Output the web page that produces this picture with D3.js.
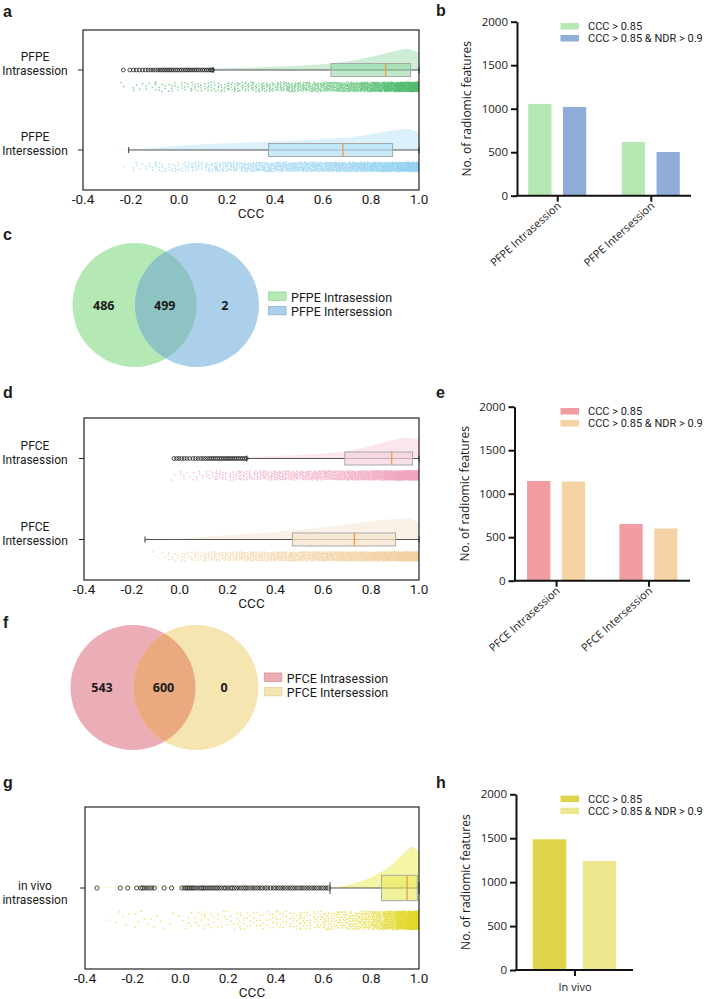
<!DOCTYPE html>
<html>
<head>
<meta charset="utf-8">
<script src="https://cdn.jsdelivr.net/npm/d3@7"></script>
<style>
  body { margin: 0; background: #fff; }
  text { font-family: Roboto, "Liberation Sans", sans-serif; fill: #1a1a1a; }
</style>
</head>
<body>
<div id="chart"></div>
<script>
// ---------- data ----------
const cccTicks = [-0.4, -0.2, 0.0, 0.2, 0.4, 0.6, 0.8, 1.0];
const countTicks = [0, 500, 1000, 1500, 2000];
const barSeries = ["CCC > 0.85", "CCC > 0.85 & NDR > 0.9"];

// box stats: [lower whisker, Q1, median, Q3, upper whisker]
const pfpeIntraBox = [0.142, 0.633, 0.861, 0.965, 1.0];
const pfpeInterBox = [-0.21, 0.373, 0.683, 0.89, 1.0];
const pfceIntraBox = [0.28, 0.69, 0.886, 0.973, 1.0];
const pfceInterBox = [-0.145, 0.471, 0.73, 0.902, 1.0];
const invivoBox = [0.627, 0.843, 0.95, 0.993, 1.0];

// outliers (open circles)
const pfpeIntraOut = [-0.232, -0.205, -0.19, -0.178, -0.165, -0.152, -0.14, -0.128, -0.118, -0.108, -0.098,
  -0.088, -0.078, -0.07, -0.062, -0.054, -0.046, -0.038, -0.03, -0.022, -0.014, -0.006, 0.002, 0.01, 0.018,
  0.026, 0.034, 0.042, 0.05, 0.058, 0.066, 0.074, 0.082, 0.09, 0.098, 0.106, 0.114, 0.122, 0.13, 0.136, 0.14];
const pfpeInterOut = [];
const pfceIntraOut = [-0.024, -0.013, -0.003, 0.008, 0.019, 0.03, 0.042, 0.055, 0.066, 0.077, 0.088, 0.098,
  0.108, 0.117, 0.126, 0.134, 0.142, 0.15, 0.158, 0.166, 0.174, 0.182, 0.19, 0.198, 0.206, 0.214, 0.222,
  0.23, 0.238, 0.246, 0.254, 0.262, 0.27, 0.278];
const pfceInterOut = [];
const invivoOut = [-0.35, -0.252, -0.221, -0.183, -0.166, -0.158, -0.15, -0.14, -0.13, -0.12, -0.109, -0.068,
  -0.037, 0.006, 0.016, 0.024, 0.031, 0.038, 0.046, 0.053, 0.06, 0.07, 0.08, 0.088, 0.095, 0.103, 0.112, 0.12,
  0.128, 0.137, 0.146, 0.153, 0.162, 0.172, 0.182, 0.19, 0.2, 0.21, 0.218, 0.226, 0.236, 0.246, 0.256, 0.266,
  0.274, 0.284, 0.294, 0.304, 0.314, 0.324, 0.334, 0.344, 0.356, 0.366, 0.378, 0.39, 0.4, 0.41, 0.42, 0.43,
  0.44, 0.45, 0.46, 0.47, 0.48, 0.49, 0.5, 0.51, 0.52, 0.53, 0.54, 0.55, 0.56, 0.57, 0.58, 0.59, 0.6, 0.61, 0.62];

// jittered points: counts per 0.05 CCC bin, from -0.4 up to 1.0 (28 bins)
const pfpeIntraBins = [0, 0, 0, 2, 5, 6, 8, 9, 10, 12, 14, 16, 18, 20, 22, 25, 28, 32, 36, 40, 48, 55, 65, 80, 100, 140, 200, 280];
const pfpeInterBins = [0, 0, 0, 1, 6, 8, 10, 12, 14, 16, 20, 24, 28, 32, 38, 42, 46, 50, 55, 60, 65, 70, 78, 85, 95, 110, 130, 160];
const pfceIntraBins = [0, 0, 0, 0, 0, 0, 0, 2, 6, 8, 12, 16, 18, 22, 26, 30, 34, 38, 42, 48, 55, 62, 75, 90, 110, 150, 220, 300];
const pfceInterBins = [0, 0, 0, 0, 0, 2, 4, 8, 14, 18, 22, 26, 30, 34, 38, 42, 48, 54, 60, 66, 72, 80, 88, 96, 110, 125, 150, 180];
const invivoBins = [0, 1, 2, 3, 5, 4, 2, 3, 6, 8, 9, 10, 10, 11, 12, 13, 15, 17, 20, 24, 30, 38, 48, 65, 95, 150, 260, 420];

// half-violin densities (relative), at these CCC values
const kdeGrid = [-0.4, -0.3, -0.2, -0.1, 0.0, 0.1, 0.2, 0.3, 0.4, 0.5, 0.6, 0.7, 0.8, 0.9, 0.95, 1.0];
const pfpeIntraKde = [0, 0, 0.01, 0.02, 0.03, 0.05, 0.08, 0.11, 0.15, 0.2, 0.27, 0.4, 0.62, 0.9, 1.0, 0.82];
const pfpeInterKde = [0, 0, 0.02, 0.1, 0.2, 0.27, 0.32, 0.36, 0.4, 0.45, 0.52, 0.6, 0.75, 0.95, 1.0, 0.82];
const pfceIntraKde = [0, 0, 0, 0, 0, 0.02, 0.05, 0.08, 0.12, 0.17, 0.24, 0.35, 0.6, 0.9, 1.0, 0.9];
const pfceInterKde = [0, 0, 0, 0, 0.05, 0.12, 0.2, 0.28, 0.36, 0.46, 0.58, 0.72, 0.87, 0.98, 1.0, 0.8];
const invivoKdeGrid = [-0.4, -0.3, 0.0, 0.3, 0.6, 0.65, 0.7, 0.75, 0.8, 0.85, 0.9, 0.95, 0.97, 1.0];
const invivoKde = [0, 0.01, 0.01, 0.01, 0.01, 0.02, 0.07, 0.15, 0.27, 0.42, 0.65, 0.92, 1.0, 0.88];

// bar charts
const pfpeGroups = ["PFPE Intrasession", "PFPE Intersession"];
const pfpeCcc = [1055, 617];
const pfpeCccNdr = [1020, 502];
const pfceGroups = ["PFCE Intrasession", "PFCE Intersession"];
const pfceCcc = [1146, 651];
const pfceCccNdr = [1140, 600];
const invivoGroups = ["In vivo"];
const invivoCcc = [1488];
const invivoCccNdr = [1241];

// venn counts: [left only, both, right only]
const pfpeVenn = [486, 499, 2];
const pfceVenn = [543, 600, 0];

// ---------- drawing ----------
const svg = d3.select("#chart").append("svg")
  .attr("width", 716).attr("height", 999);

// panel letters
const letters = [["a", 3, 17], ["b", 436, 16], ["c", 3, 240], ["d", 3, 398], ["e", 436, 398],
  ["f", 3, 628], ["g", 3, 788], ["h", 436, 788]];
svg.selectAll("text.letter").data(letters).join("text")
  .attr("class", "letter")
  .attr("x", d => d[1]).attr("y", d => d[2])
  .style("font-family", "'Liberation Sans', Arial, sans-serif")
  .attr("font-weight", "bold").attr("font-size", 16)
  .text(d => d[0]);

// quasi-random jitter (R2 sequence), deterministic
const R2 = 1.32471795724474602596;
function jitter(n) {
  return [(0.5 + n / R2) % 1, (0.5 + n / (R2 * R2)) % 1];
}

function raincloud(opt) {
  const x = d3.scaleLinear().domain([-0.4, 1.0]).range([opt.left, opt.right]);
  const y = d3.scalePoint().domain(opt.rows.map(r => r.name)).range([opt.top, opt.bottom]).padding(0.5);
  const g = svg.append("g");
  const s = opt.s;

  opt.rows.forEach(r => {
    const c = y(r.name);
    const h = d3.scaleLinear().domain([0, 1]).range([0, 21 * s]);

    // half violin
    const area = d3.area()
      .x(d => x(d[0])).y0(c).y1(d => c - h(d[1]))
      .curve(d3.curveMonotoneX);
    g.append("path")
      .datum(d3.zip(r.kdeX, r.kde))
      .attr("d", area)
      .attr("fill", r.kdeColor);

    // jittered points
    let n = 0;
    const pts = [];
    r.bins.forEach((cnt, i) => {
      const x0 = -0.4 + i * 0.05;
      for (let k = 0; k < cnt; k++) {
        const j = jitter(n++ + i * 7);
        pts.push([x0 + j[0] * 0.05, j[1]]);
      }
    });
    const top = c + 11.5 * s, hgt = 9.5 * s;
    g.append("g").selectAll("rect").data(pts).join("rect")
      .attr("x", d => Math.min(x(d[0]), opt.right - 1.3))
      .attr("y", d => top + d[1] * hgt)
      .attr("width", 1.3).attr("height", 1.3)
      .attr("fill", r.dotColor).attr("opacity", 0.85);

    // whisker line and caps
    const b = r.box;
    g.append("line")
      .attr("x1", x(b[0])).attr("x2", x(b[4]))
      .attr("y1", c).attr("y2", c)
      .attr("stroke", "#555").attr("stroke-width", 1);
    g.selectAll(null).data([b[0], b[4]]).join("line")
      .attr("x1", d => x(d)).attr("x2", d => x(d))
      .attr("y1", c - 3 * s).attr("y2", c + 3 * s)
      .attr("stroke", "#555").attr("stroke-width", 1.2);

    // box
    g.append("rect")
      .attr("x", x(b[1])).attr("y", c - 6.5 * s)
      .attr("width", x(b[3]) - x(b[1])).attr("height", 13 * s)
      .attr("fill", r.boxColor).attr("stroke", "#a8a8a8").attr("stroke-width", 1);
    g.append("line")
      .attr("x1", x(b[2])).attr("x2", x(b[2]))
      .attr("y1", c - 6.5 * s).attr("y2", c + 6.5 * s)
      .attr("stroke", "#f39a45").attr("stroke-width", 1.3);

    // outliers
    g.append("g").selectAll("circle").data(r.out).join("circle")
      .attr("cx", d => x(d)).attr("cy", c)
      .attr("r", 1.9 + 0.2 * (s - 1))
      .attr("fill", "none").attr("stroke", "#222").attr("stroke-width", 0.8);

    // category label + tick
    g.append("line")
      .attr("x1", opt.left - 5).attr("x2", opt.left)
      .attr("y1", c).attr("y2", c)
      .attr("stroke", "#222");
    r.lines.forEach((line, i) => {
      g.append("text")
        .attr("text-anchor", "middle").attr("font-size", 12)
        .attr("x", 35)
        .attr("y", c + opt.labelDy + i * 14)
        .text(line);
    });
  });

  // frame
  g.append("rect")
    .attr("x", opt.left).attr("y", opt.top)
    .attr("width", opt.right - opt.left).attr("height", opt.bottom - opt.top)
    .attr("fill", "none").attr("stroke", "#222").attr("stroke-width", 1.2);

  // x tick labels and title
  g.selectAll("text.tick").data(cccTicks).join("text")
    .attr("class", "tick")
    .attr("x", d => x(d)).attr("y", opt.bottom + 13.5)
    .attr("text-anchor", "middle").attr("font-size", 13.5)
    .text(d => d.toFixed(1));
  g.append("text")
    .attr("x", (opt.left + opt.right) / 2).attr("y", opt.bottom + 27.5)
    .attr("text-anchor", "middle").attr("font-size", 13.5)
    .text("CCC");
}

function bars(opt) {
  const y = d3.scaleLinear().domain([0, 2000]).range([opt.bottom, opt.top]);
  const x = d3.scalePoint().domain(opt.groups).range([opt.left, opt.right]).padding(opt.pad);
  const inner = d3.scaleBand().domain(barSeries).range([-opt.half, opt.half]).paddingInner(0.33);
  const g = svg.append("g");
  const values = [opt.v1, opt.v2];

  barSeries.forEach((sname, si) => {
    g.append("g").selectAll("rect").data(values[si]).join("rect")
      .attr("x", (d, i) => x(opt.groups[i]) + inner(sname))
      .attr("y", d => y(d))
      .attr("width", inner.bandwidth())
      .attr("height", d => opt.bottom - y(d))
      .attr("fill", opt.colors[si]);
  });

  // y axis
  const ya = g.append("g").attr("transform", `translate(${opt.left},0)`)
    .call(d3.axisLeft(y).tickValues(countTicks).tickFormat(d3.format("d"))
      .tickSize(6).tickSizeOuter(0).tickPadding(3));
  ya.select(".domain").attr("stroke", "#111").attr("stroke-width", 2);
  ya.selectAll(".tick line").attr("stroke", "#111").attr("stroke-width", 2);
  ya.selectAll(".tick text")
    .style("font-family", "'Open Sans', sans-serif").attr("font-size", 11.5).attr("fill", "#222");

  // x axis
  const xa = g.append("g").attr("transform", `translate(0,${opt.bottom})`)
    .call(d3.axisBottom(x).tickSize(6).tickSizeOuter(0));
  xa.select(".domain").attr("stroke", "#111").attr("stroke-width", 2)
    .attr("d", `M${opt.left - 1},0H${opt.right}`);
  xa.selectAll(".tick line").attr("stroke", "#111").attr("stroke-width", 2);
  const xt = xa.selectAll(".tick text")
    .style("font-family", "'Open Sans', sans-serif").attr("font-size", 11).attr("fill", "#222");
  if (opt.rotate) {
    xt.attr("text-anchor", "end").attr("dy", null)
      .attr("transform", "translate(4,11) rotate(-42)").attr("y", 0).attr("x", 0);
  } else {
    xt.attr("y", 13).attr("dy", "0.71em");
  }

  // y title
  g.append("text")
    .attr("transform", `translate(${opt.left - 46},${(opt.top + opt.bottom) / 2}) rotate(-90)`)
    .attr("text-anchor", "middle")
    .style("font-family", "'Open Sans', sans-serif").attr("font-size", 12)
    .text("No. of radiomic features");

  // legend
  const lg = g.append("g");
  barSeries.forEach((sname, si) => {
    const cy = opt.top + 4.5 + si * 12;
    lg.append("rect").attr("x", 560.5).attr("y", cy - 3.2)
      .attr("width", 18.5).attr("height", 6.5).attr("fill", opt.colors[si]);
    lg.append("text").attr("x", 588).attr("y", cy + 3.8)
      .attr("font-size", 11).text(sname);
  });
}

let clipId = 0;
function venn(opt) {
  const g = svg.append("g");
  const [c1, c2] = opt.cx;
  g.append("circle").attr("cx", c1).attr("cy", opt.cy).attr("r", opt.r).attr("fill", opt.colors[0]);
  g.append("circle").attr("cx", c2).attr("cy", opt.cy).attr("r", opt.r).attr("fill", opt.colors[1]);
  const id = "clip" + (clipId++);
  g.append("clipPath").attr("id", id)
    .append("circle").attr("cx", c1).attr("cy", opt.cy).attr("r", opt.r);
  g.append("circle").attr("cx", c2).attr("cy", opt.cy).attr("r", opt.r)
    .attr("clip-path", `url(#${id})`).attr("fill", opt.colors[2]);

  const pos = [(c1 - opt.r + c2 - opt.r) / 2, (c2 - opt.r + c1 + opt.r) / 2 - 1, (c1 + opt.r + c2 + opt.r) / 2 - 3];
  g.selectAll("text.num").data(opt.counts).join("text")
    .attr("class", "num")
    .attr("x", (d, i) => pos[i]).attr("y", opt.cy + 4.5)
    .attr("text-anchor", "middle").attr("font-weight", "bold")
    .style("font-family", "'Open Sans', sans-serif").attr("font-size", 12.5)
    .text(d => d);

  opt.names.forEach((nm, i) => {
    const top = opt.legendY + i * 14.5;
    g.append("rect").attr("x", opt.legendX).attr("y", top)
      .attr("width", 17.5).attr("height", 8.3)
      .attr("fill", opt.colors[i]).attr("stroke", opt.strokes[i]).attr("stroke-width", 0.8);
    g.append("text").attr("x", opt.legendX + 22.5).attr("y", top + 9.5)
      .attr("font-size", 12.5).text(nm);
  });
}

// a
raincloud({
  left: 83, right: 419, top: 30, bottom: 190, s: 1, labelDy: -9,
  rows: [
    { name: "PFPE Intrasession", lines: ["PFPE", "Intrasession"], box: pfpeIntraBox, out: pfpeIntraOut,
      bins: pfpeIntraBins, kdeX: kdeGrid, kde: pfpeIntraKde,
      kdeColor: "#cdeed5", boxColor: "rgba(140,215,160,0.55)", dotColor: "#52bd70" },
    { name: "PFPE Intersession", lines: ["PFPE", "Intersession"], box: pfpeInterBox, out: pfpeInterOut,
      bins: pfpeInterBins, kdeX: kdeGrid, kde: pfpeInterKde,
      kdeColor: "#dbf1fb", boxColor: "rgba(180,225,248,0.7)", dotColor: "#8fd0f1" }
  ]
});

// b
bars({
  left: 517, right: 691, top: 21.7, bottom: 195.7, pad: 0.43, half: 29, rotate: true,
  groups: pfpeGroups, v1: pfpeCcc, v2: pfpeCccNdr, colors: ["#b5e8b3", "#8fadd7"]
});

// c
venn({
  cx: [134.5, 197], cy: 305, r: 62, counts: pfpeVenn,
  colors: ["#b4e9b6", "#acd0e9", "#8dc4c3"], strokes: ["#8fd39a", "#86b5d6"],
  names: ["PFPE Intrasession", "PFPE Intersession"], legendX: 268.5, legendY: 292
});

// d
raincloud({
  left: 84, right: 419, top: 418, bottom: 580, s: 1, labelDy: -9,
  rows: [
    { name: "PFCE Intrasession", lines: ["PFCE", "Intrasession"], box: pfceIntraBox, out: pfceIntraOut,
      bins: pfceIntraBins, kdeX: kdeGrid, kde: pfceIntraKde,
      kdeColor: "#fbe6ed", boxColor: "rgba(246,210,222,0.7)", dotColor: "#f1a7bf" },
    { name: "PFCE Intersession", lines: ["PFCE", "Intersession"], box: pfceInterBox, out: pfceInterOut,
      bins: pfceInterBins, kdeX: kdeGrid, kde: pfceInterKde,
      kdeColor: "#faf1e6", boxColor: "rgba(246,228,205,0.75)", dotColor: "#f2cf9f" }
  ]
});

// e
bars({
  left: 514.5, right: 690, top: 406.7, bottom: 580.7, pad: 0.45, half: 29, rotate: true,
  groups: pfceGroups, v1: pfceCcc, v2: pfceCccNdr, colors: ["#f19ca3", "#f5d3a5"]
});

// f
venn({
  cx: [133, 196], cy: 687.5, r: 62.5, counts: pfceVenn,
  colors: ["#ebaeb6", "#f5e5b0", "#eaa97f"], strokes: ["#d98e98", "#e6d08e"],
  names: ["PFCE Intrasession", "PFCE Intersession"], legendX: 264.3, legendY: 673
});

// g
raincloud({
  left: 85, right: 419, top: 807, bottom: 969, s: 1.95, labelDy: 2,
  rows: [
    { name: "in vivo intrasession", lines: ["in vivo", "intrasession"], box: invivoBox, out: invivoOut,
      bins: invivoBins, kdeX: invivoKdeGrid, kde: invivoKde,
      kdeColor: "#f4f6a6", boxColor: "rgba(232,234,90,0.6)", dotColor: "#e2d82a" }
  ]
});

// h
bars({
  left: 516, right: 633, top: 794.3, bottom: 970, pad: 0.5, half: 41.7, rotate: false,
  groups: invivoGroups, v1: invivoCcc, v2: invivoCccNdr, colors: ["#dfd447", "#ede88f"]
});
</script>
</body>
</html>
